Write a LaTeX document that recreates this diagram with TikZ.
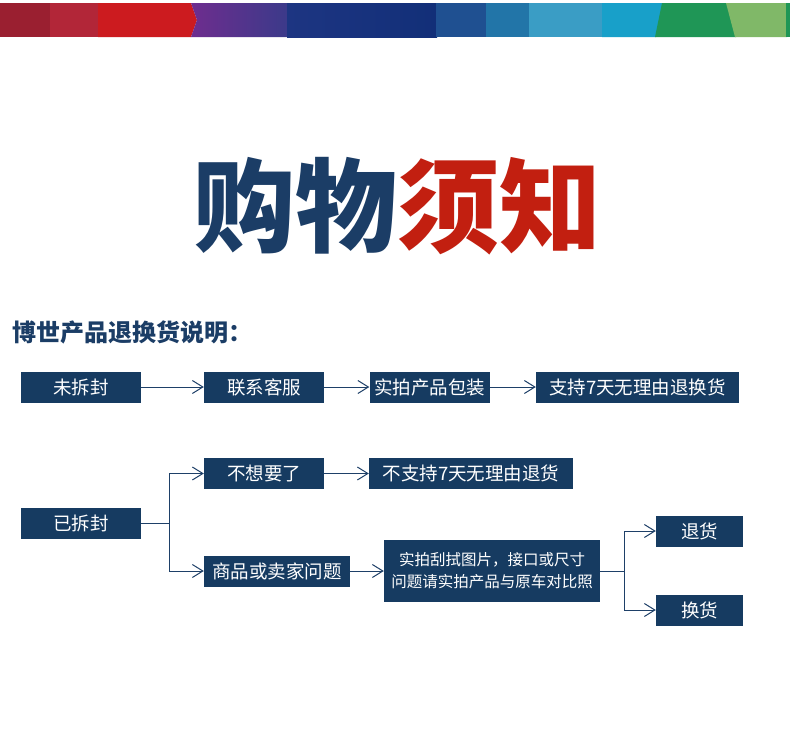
\documentclass[tikz,border=0pt]{standalone}
\usepackage{fontspec}
\usetikzlibrary{arrows.meta}
\newfontfamily\cjk{Noto Sans CJK SC}
\definecolor{navy}{HTML}{163B61}
\definecolor{lineblue}{HTML}{1E4068}
\definecolor{titleblue}{HTML}{1B3D66}
\definecolor{titlered}{HTML}{C21F10}
\definecolor{b1}{HTML}{9A1F30}
\definecolor{b2}{HTML}{B22638}\definecolor{b3}{HTML}{CC1B1F}
\definecolor{b4a}{HTML}{6E2D8E}\definecolor{b4b}{HTML}{3B3A8A}
\definecolor{b5a}{HTML}{1D3582}\definecolor{b5b}{HTML}{122F78}
\definecolor{b6}{HTML}{1F5091}\definecolor{b7}{HTML}{2275A8}
\definecolor{b8}{HTML}{3A9DC5}\definecolor{b9}{HTML}{18A0C9}
\definecolor{b10}{HTML}{1F9656}\definecolor{b11}{HTML}{80B868}
\tikzset{
  box/.style={fill=navy, text=white, inner sep=0pt, minimum height=31pt,
    font=\cjk\fontsize{18.5}{20}\selectfont},
  smallbox/.style={box, font=\cjk\fontsize{15.5}{22}\selectfont, align=center},
  conn/.style={draw=lineblue, line width=1pt},
  arr/.style={conn, -{Straight Barb[length=10.5pt,width=13pt,line width=1pt]}}
}
\begin{document}
\begin{tikzpicture}[x=1pt,y=-1pt]
\useasboundingbox (0,0) rectangle (790,737);
\fill[white] (0,0) rectangle (790,737);
% banner
\fill[b1] (0,3) rectangle (51,37);
\fill[b2] (50,3) rectangle (99,37);
\fill[b3] (98,3) -- (191,3) -- (197,20) -- (191,37) -- (98,37) -- cycle;
\shade[left color=b4a, right color=b4b] (191,3) -- (288,3) -- (288,37) -- (191,37) -- (197,20) -- cycle;
\shade[left color=b5a, right color=b5b] (287,3) rectangle (437,37);
\fill[b6] (436,3) rectangle (487,37);
\fill[b7] (486,3) rectangle (530,37);
\fill[b8] (529,3) rectangle (603,37);
\fill[b9] (602,3) -- (663,3) -- (656,37) -- (602,37) -- cycle;
\fill[b10] (662,3) -- (727,3) -- (736,37) -- (655,37) -- cycle;
\fill[b11] (726,3) -- (787,3) -- (787,37) -- (735,37) -- cycle;
\fill[b10] (786,3) rectangle (790,37);
% title
\node[font=\cjk\bfseries\fontsize{102}{110}\selectfont, inner sep=0pt] (title) at (397,206)
  {\textcolor{titleblue}{购物}\textcolor{titlered}{须知}};
\node[anchor=west, inner sep=0pt, text=titleblue, font=\cjk\bfseries\fontsize{24}{26}\selectfont] (sub) at (12,332) {博世产品退换货说明：};
% row 1
\node[box, minimum width=120pt] (a1) at (81,387) {未拆封};
\node[box, minimum width=120pt] (a2) at (264,387) {联系客服};
\node[box, minimum width=120pt] (a3) at (429.5,387) {实拍产品包装};
\node[box, minimum width=203pt] (a4) at (637.5,387) {支持7天无理由退换货};
\draw[arr] (a1) -- (a2);
\draw[arr] (a2) -- (a3);
\draw[arr] (a3) -- (a4);
% row 2
\node[box, minimum width=120pt] (n1) at (81,523) {已拆封};
\node[box, minimum width=120pt] (n2) at (264,473.5) {不想要了};
\node[box, minimum width=204pt] (n3) at (471,473.5) {不支持7天无理由退货};
\node[box, minimum width=146pt] (c1) at (277,571) {商品或卖家问题};
\node[smallbox, minimum width=216pt, minimum height=62pt] (c2) at (492,571) {实拍刮拭图片，接口或尺寸\\问题请实拍产品与原车对比照};
\node[box, minimum width=87pt] (d1) at (699.5,531) {退货};
\node[box, minimum width=87pt] (d2) at (699.5,610) {换货};
\coordinate (j1) at (169,523);
\coordinate (j2) at (624,571);
\draw[conn] (n1) -- (j1);
\draw[arr] (j1) |- (n2);
\draw[arr] (j1) |- (c1);
\draw[arr] (n2) -- (n3);
\draw[arr] (c1) -- (c2);
\draw[conn] (c2) -- (j2);
\draw[arr] (j2) |- (d1);
\draw[arr] (j2) |- (d2);
\end{tikzpicture}
\end{document}
